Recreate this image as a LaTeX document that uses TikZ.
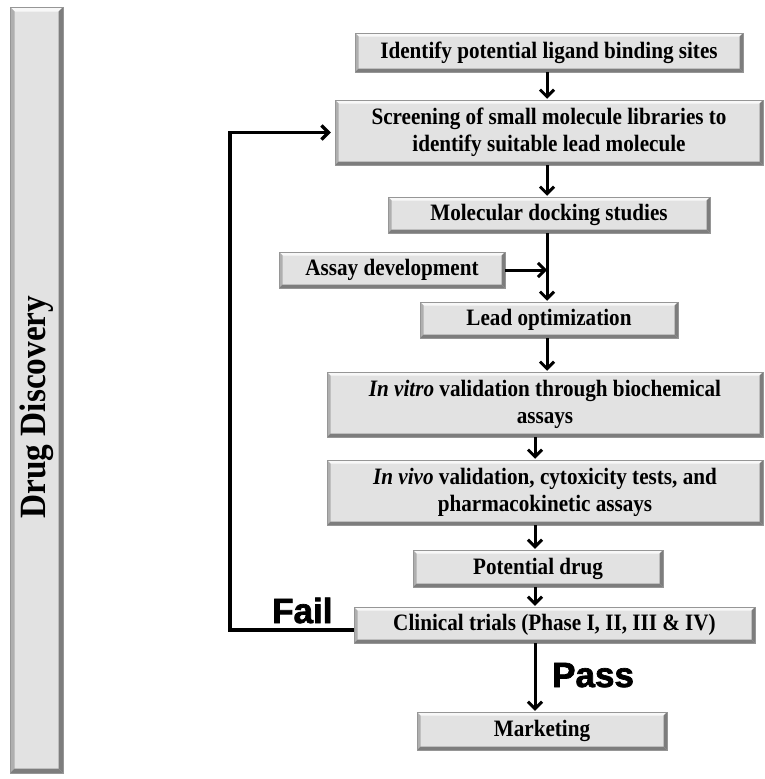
\documentclass[tikz,border=0pt]{standalone}
\usepackage{fontspec}
\setmainfont{Liberation Serif}[FakeStretch=0.9]
\newfontfamily\labelfont{Liberation Sans}[FakeBold=2]
\usetikzlibrary{arrows.meta,calc}
\definecolor{boxfill}{RGB}{226,226,226}
\definecolor{bevlight}{RGB}{248,248,248}
\definecolor{bevmid}{RGB}{175,175,175}
\definecolor{bevdark}{RGB}{125,125,125}
\definecolor{edge}{RGB}{150,150,150}
\tikzset{
  bevel/.style={path picture={
    \fill[bevlight] (path picture bounding box.north west) -- (path picture bounding box.north east)
      -- ([xshift=-#1,yshift=-#1]path picture bounding box.north east)
      -- ([xshift=#1,yshift=-#1]path picture bounding box.north west) -- cycle;
    \fill[bevmid] (path picture bounding box.north west) -- ([xshift=#1,yshift=-#1]path picture bounding box.north west)
      -- ([xshift=#1,yshift=#1]path picture bounding box.south west) -- (path picture bounding box.south west) -- cycle;
    \fill[bevdark] (path picture bounding box.north east) -- (path picture bounding box.south east)
      -- ([xshift=-#1,yshift=#1]path picture bounding box.south east)
      -- ([xshift=-#1,yshift=-#1]path picture bounding box.north east) -- cycle;
    \fill[bevdark] (path picture bounding box.south west) -- (path picture bounding box.south east)
      -- ([xshift=-#1,yshift=#1]path picture bounding box.south east)
      -- ([xshift=#1,yshift=#1]path picture bounding box.south west) -- cycle;
  }},
  stepbox/.style={rectangle, fill=boxfill, draw=edge, line width=0.5pt, inner sep=0pt,
    align=center, font=\bfseries\fontsize{23.5}{26.5}\selectfont, bevel=3.5pt},
  arr/.style={line width=3pt, -{Straight Barb[length=7pt,width=14pt]}},
  verdict/.style={font=\labelfont\bfseries\fontsize{35}{40}\selectfont, inner sep=0pt, anchor=base west}
}
\begin{document}
\begin{tikzpicture}[x=1pt,y=-1pt]
\useasboundingbox (0,0) rectangle (765,779);
% side bar
\node[stepbox, minimum width=53pt, minimum height=766pt, bevel=4.5pt] (bar) at (36.5,390) {};
\node[font=\bfseries\fontsize{37}{40}\selectfont, rotate=90, inner sep=0pt] (bartxt) at (36.5,407) {Drug Discovery};
% steps
\node[stepbox, minimum width=388pt, minimum height=39pt] (n1) at (549,52.5) {Identify potential ligand binding sites};
\node[stepbox, minimum width=428pt, minimum height=65pt] (n2) at (549,132.5) {Screening of small molecule libraries to\\identify suitable lead molecule};
\node[stepbox, minimum width=322pt, minimum height=36pt] (n3) at (549,215) {Molecular docking studies};
\node[stepbox, minimum width=226pt, minimum height=36pt] (n4) at (392,270) {Assay development};
\node[stepbox, minimum width=258pt, minimum height=36pt] (n5) at (549,320) {Lead optimization};
\node[stepbox, minimum width=436pt, minimum height=65pt] (n6) at (545,404.5) {\textit{In vitro} validation through biochemical\\assays};
\node[stepbox, minimum width=436pt, minimum height=65pt] (n7) at (545,492.5) {\textit{In vivo} validation, cytoxicity tests, and\\pharmacokinetic assays};
\node[stepbox, minimum width=250pt, minimum height=37pt] (n8) at (538,568.5) {Potential drug};
\node[stepbox, minimum width=401pt, minimum height=36pt] (n9) at (554.5,625) {Clinical trials (Phase I, II, III \& IV)};
\node[stepbox, minimum width=250pt, minimum height=38pt] (n10) at (542,731) {Marketing};
% columns
\coordinate (colA) at (547,0);
\coordinate (colB) at (535,0);
\coordinate (loopx) at (230,0);
% arrows
\draw[arr] (n1.south -| colA) -- ([yshift=1pt]n2.north -| colA);
\draw[arr] (n2.south -| colA) -- ([yshift=1pt]n3.north -| colA);
\draw[arr] (n3.south -| colA) -- ([yshift=1pt]n5.north -| colA);
\draw[arr] (n4.east) -- (n4.east -| colA);
\draw[arr] (n5.south -| colA) -- ([yshift=1pt]n6.north -| colA);
\draw[arr] (n6.south -| colB) -- ([yshift=1pt]n7.north -| colB);
\draw[arr] (n7.south -| colB) -- ([yshift=1pt]n8.north -| colB);
\draw[arr] (n8.south -| colB) -- ([yshift=1pt]n9.north -| colB);
\draw[arr] (n9.south -| colB) -- ([yshift=1pt]n10.north -| colB);
% fail loop
\draw[arr, line width=3.2pt, shorten >=4pt] ([yshift=-5pt]n9.west) -| (loopx |- n2.west) -- (n2.west);
% labels
\node[verdict] (fail) at (272,623) {Fail};
\node[verdict] (pass) at (552,687) {Pass};
\end{tikzpicture}
\end{document}
